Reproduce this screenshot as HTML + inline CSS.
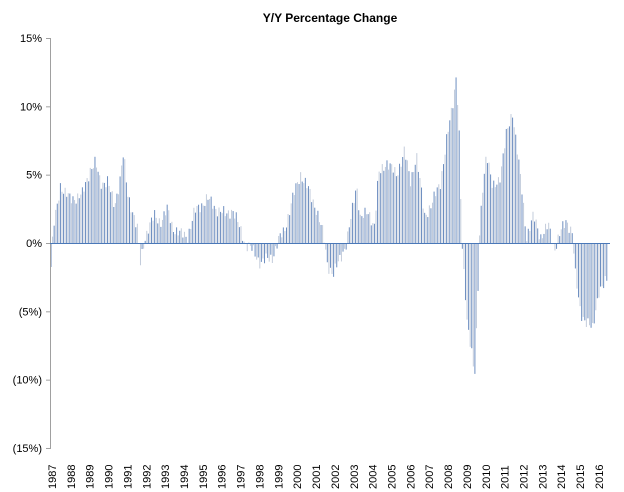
<!DOCTYPE html>
<html><head><meta charset="utf-8"><style>
body{margin:0;background:#fff;}
svg{display:block;font-family:"Liberation Sans",sans-serif;}
</style></head><body>
<svg id="s" width="624" height="492" viewBox="0 0 624 492">
<text x="330" y="22" text-anchor="middle" font-size="12" font-weight="bold" fill="#000">Y/Y Percentage Change</text>
<g id="bars"></g>
<line x1="50.5" y1="38" x2="50.5" y2="448" stroke="#a0a0a0" stroke-width="1"/>
<g id="ticks" font-size="11" fill="#000"></g>
<line x1="50" y1="243.5" x2="610" y2="243.5" stroke="#4a78b8" stroke-width="1"/>
<g id="xl" font-size="11" fill="#000"></g>
</svg>
<script>
var NS="http://www.w3.org/2000/svg";
function el(t,a,p,txt){var e=document.createElementNS(NS,t);for(var k in a)e.setAttribute(k,a[k]);if(txt)e.textContent=txt;p.appendChild(e);return e;}
var tk=document.getElementById("ticks");
var labs=["15%","10%","5%","0%","(5%)","(10%)","(15%)"];
for(var i=0;i<7;i++){var y=38+i*68.33;
el("line",{x1:46,x2:51,y1:y+.5,y2:y+.5,stroke:"#a0a0a0"},tk);
el("text",{x:42,y:y+4,"text-anchor":"end"},tk,labs[i]);}
var xl=document.getElementById("xl");
for(var yr=1987;yr<=2016;yr++){var x=52+(yr-1987)*18.86;
el("text",{x:0,y:0,transform:"translate("+(x+4)+",489) rotate(-90)"},xl,""+yr);}
var k=[[50,-2.3],[53,1.2],[56,2.4],[60,4.3],[64,3.8],[70,3.2],[82,3.6],[90,5.5],[95,5.9],[100,4.4],[107,4.6],[114,2.7],[119,4.5],[123,6.6],[127,3.6],[133,2.2],[137,1.0],[140,-1.5],[144,0.3],[148,1.2],[154,2.0],[160,1.6],[167,2.5],[172,1.2],[180,0.7],[187,0.5],[194,2.3],[207,3.3],[215,2.6],[225,2.1],[232,2.5],[240,1.0],[245,0],[252,-0.5],[260,-1.4],[272,-1.0],[278,0.2],[284,1.0],[293,3.5],[300,5.1],[307,4.1],[316,2.5],[323,0.6],[327,-1.5],[333,-2.3],[340,-1.0],[346,0],[350,1.6],[356,4.4],[360,1.8],[368,2.3],[374,1.3],[378,5.0],[386,6.0],[396,5.0],[404,6.8],[410,4.5],[416,6.5],[424,2.0],[432,3.0],[440,4.5],[446,7.5],[452,10],[456,12.5],[459,7.5],[461,0.8],[463,-2],[467,-6],[471,-7.5],[474,-10],[477,-5],[479,0.5],[482,4],[486,6.7],[492,4],[500,5],[506,8],[512,9.7],[518,6],[522,3.5],[526,0.5],[533,2],[540,0.5],[548,1.3],[554,-0.4],[560,0.8],[566,1.7],[572,0.8],[575,-2.5],[580,-5],[586,-5.8],[592,-6.3],[598,-3.5],[603,-3.2],[607,-2.5]];
function val(x){for(var i=0;i<k.length-1;i++){if(x<=k[i+1][0]){var t=(x-k[i][0])/(k[i+1][0]-k[i][0]);return k[i][1]+t*(k[i+1][1]-k[i][1]);}}return k[k.length-1][1];}
var g=document.getElementById("bars");var n=0;
for(var x=50.5;x<=607.5;x+=1.57){var v=val(x)+0.35*Math.sin(n*2.3)+0.2*Math.sin(n*0.7);
var y0=243.5,y1=243.5-v*13.67;
el("rect",{x:x.toFixed(2),y:Math.min(y0,y1).toFixed(2),width:1,height:Math.abs(y1-y0).toFixed(2),fill:(n%2?"#c3ccdb":"#6d8ec0")},g);n++;}
</script>
</body></html>
